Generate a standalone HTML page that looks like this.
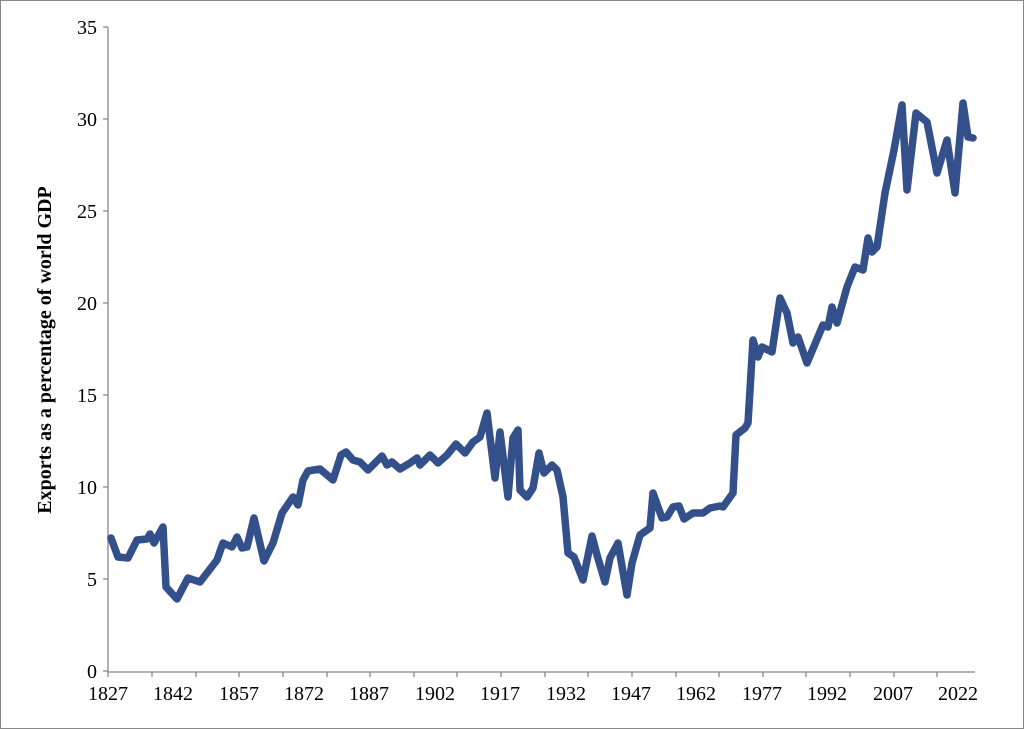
<!DOCTYPE html>
<html><head><meta charset="utf-8"><style>
body{margin:0;background:#fff}
svg{display:block}
text{font-family:"Liberation Serif",serif;fill:#000}
</style></head><body>
<svg width="1024" height="729" viewBox="0 0 1024 729">
<rect x="0.5" y="0.5" width="1023" height="728" fill="#fff" stroke="#888"/>
<g stroke="#888" stroke-width="1.3">
<line x1="108" y1="27" x2="108" y2="672"/>
<line x1="108" y1="672" x2="975" y2="672"/>
<line x1="103" y1="27" x2="108" y2="27"/>
<line x1="103" y1="119" x2="108" y2="119"/>
<line x1="103" y1="211" x2="108" y2="211"/>
<line x1="103" y1="303" x2="108" y2="303"/>
<line x1="103" y1="395" x2="108" y2="395"/>
<line x1="103" y1="487" x2="108" y2="487"/>
<line x1="103" y1="579" x2="108" y2="579"/>
<line x1="103" y1="671" x2="108" y2="671"/>
</g>
<g font-size="20" text-anchor="end">
<text x="97" y="34">35</text><text x="97" y="126">30</text><text x="97" y="218">25</text>
<text x="97" y="310">20</text><text x="97" y="402">15</text><text x="97" y="494">10</text>
<text x="97" y="586">5</text><text x="97" y="678">0</text>
</g>
<g font-size="20" text-anchor="middle">
<text x="108" y="700">1827</text><text x="173" y="700">1842</text><text x="239" y="700">1857</text>
<text x="304" y="700">1872</text><text x="369" y="700">1887</text><text x="435" y="700">1902</text>
<text x="500" y="700">1917</text><text x="566" y="700">1932</text><text x="631" y="700">1947</text>
<text x="696" y="700">1962</text><text x="762" y="700">1977</text><text x="827" y="700">1992</text>
<text x="893" y="700">2007</text><text x="958" y="700">2022</text>
</g>
<text transform="translate(51,350) rotate(-90)" font-size="20" font-weight="bold" text-anchor="middle">Exports as a percentage of world GDP</text>
<polyline fill="none" stroke="#34508a" stroke-width="7.5" stroke-linejoin="round" stroke-linecap="round" points="
111,538 118,557 128,558 137,540 147,539 150,534 154,543 163,527 166,587 177,599 188,578 200,582 207,573 217,560 223,543 232,547 237,537 242,548 247,547 254,518 264,561 273,543 282,513 293,497 298,505 303,480 308,471 320,469 333,480 341,455 346,452 353,460 360,462 368,470 382,456 387,465 392,462 400,469 410,463 417,458 420,465 430,455 438,463 447,455 456,444 465,453 473,442 480,437 487,413 495,478 500,432 508,497 513,438 518,430 520,490 527,497 533,488 539,453 544,473 552,465 557,470 563,497 568,553 574,557 583,580 592,536 597,555 605,582 610,558 618,543 627,595 632,563 640,535 650,528 653,493 662,518 667,517 673,507 679,506 684,519 693,513 703,513 710,508 720,506 723,507 733,493 736,435 745,428 748,423 753,340 758,357 762,347 772,352 780,298 787,313 793,343 798,337 807,363 823,325 828,327 832,307 837,323 847,287 855,267 863,270 868,238 872,252 877,247 885,193 894,150 902,105 907,190 916,113 922,118 927,122 937,173 947,140 955,193 963,103 968,137 973,138"/>
<g stroke="#888" stroke-width="1.3">
<line x1="108" y1="672" x2="108" y2="677"/><line x1="152" y1="672" x2="152" y2="677"/>
<line x1="196" y1="672" x2="196" y2="677"/><line x1="239" y1="672" x2="239" y2="677"/>
<line x1="283" y1="672" x2="283" y2="677"/><line x1="327" y1="672" x2="327" y2="677"/>
<line x1="370" y1="672" x2="370" y2="677"/><line x1="414" y1="672" x2="414" y2="677"/>
<line x1="457" y1="672" x2="457" y2="677"/><line x1="501" y1="672" x2="501" y2="677"/>
<line x1="545" y1="672" x2="545" y2="677"/><line x1="588" y1="672" x2="588" y2="677"/>
<line x1="632" y1="672" x2="632" y2="677"/><line x1="676" y1="672" x2="676" y2="677"/>
<line x1="719" y1="672" x2="719" y2="677"/><line x1="763" y1="672" x2="763" y2="677"/>
<line x1="806" y1="672" x2="806" y2="677"/><line x1="850" y1="672" x2="850" y2="677"/>
<line x1="894" y1="672" x2="894" y2="677"/><line x1="937" y1="672" x2="937" y2="677"/>
</g>
</svg>
</body></html>
